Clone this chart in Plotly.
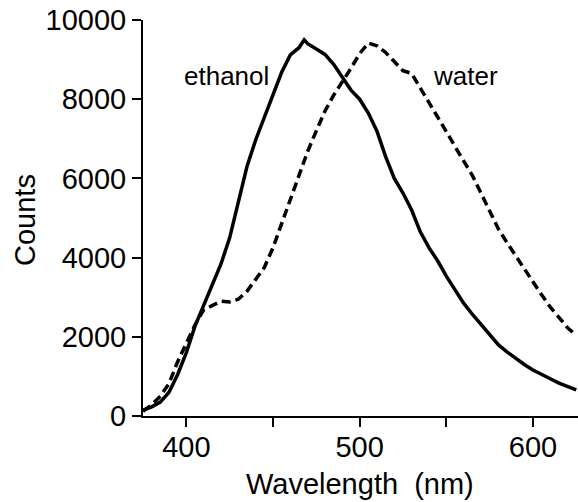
import plotly.graph_objects as go

# Emission spectra (counts vs wavelength) in two solvents
wavelength_ethanol = [375, 380, 385, 390, 395, 400, 405, 410, 415, 420, 425, 430, 435, 440,
                      445, 450, 455, 460, 465, 468, 470, 475, 480, 485, 490, 495, 500, 505,
                      510, 515, 520, 525, 530, 535, 540, 545, 550, 555, 560, 565, 570, 575,
                      580, 585, 590, 595, 600, 605, 610, 615, 620, 625]
counts_ethanol = [150, 230, 350, 600, 1050, 1600, 2270, 2800, 3320, 3840, 4500, 5400, 6300, 6970,
                  7540, 8130, 8680, 9120, 9300, 9500, 9400, 9270, 9130, 8880, 8560, 8230, 8000, 7650,
                  7190, 6550, 6000, 5630, 5200, 4650, 4250, 3920, 3530, 3180, 2850, 2570, 2320, 2050,
                  1800, 1620, 1450, 1300, 1160, 1040, 940, 830, 740, 660]

wavelength_water = [375, 380, 385, 390, 395, 400, 405, 410, 415, 420, 425, 430, 435, 440,
                    445, 450, 455, 460, 465, 470, 475, 480, 485, 490, 495, 500, 505, 510,
                    515, 520, 525, 530, 535, 540, 545, 550, 555, 560, 565, 570, 575, 580,
                    585, 590, 595, 600, 605, 610, 615, 620, 625]
counts_water = [120, 280, 500, 820, 1370, 1850, 2300, 2680, 2800, 2900, 2880, 2950, 3150, 3450,
                3750, 4250, 4870, 5450, 6050, 6680, 7200, 7700, 8100, 8430, 8780, 9150, 9420, 9350,
                9180, 8950, 8720, 8650, 8270, 7920, 7550, 7180, 6830, 6440, 6080, 5640, 5200, 4730,
                4380, 4040, 3700, 3380, 3060, 2750, 2480, 2230, 2030]

x_ticks = [400, 450, 500, 550, 600]
x_tick_text = ["400", "", "500", "", "600"]
y_ticks = [0, 2000, 4000, 6000, 8000, 10000]
y_tick_text = ["0", "2000", "4000", "6000", "8000", "10000"]

FONT = "Liberation Sans, Arial, Helvetica, sans-serif"

W, H = 578, 502
ML, MR, MT, MB = 143, 0, 20, 86
pw, ph = W - ML - MR, H - MT - MB


def px_to_paper(px, py):
    return (px - ML) / pw, (H - MB - py) / ph


fig = go.Figure()
fig.add_trace(go.Scatter(x=wavelength_ethanol, y=counts_ethanol, mode="lines",
                         line=dict(color="black", width=3.5), name="ethanol"))
fig.add_trace(go.Scatter(x=wavelength_water, y=counts_water, mode="lines",
                         line=dict(color="black", width=3.5, dash="9px,5px"), name="water"))

fig.add_annotation(x=422.9, y=8586, xref="x", yref="y", text="ethanol", showarrow=False,
                   xanchor="center", yanchor="middle",
                   font=dict(family=FONT, size=26, color="black"))
fig.add_annotation(x=560.8, y=8586, xref="x", yref="y", text="water", showarrow=False,
                   xanchor="center", yanchor="middle",
                   font=dict(family=FONT, size=26, color="black"))

# Axis titles placed by pixel position
tx, ty = px_to_paper(360, 484)
fig.add_annotation(x=tx, y=ty, xref="paper", yref="paper", text="Wavelength  (nm)",
                   showarrow=False, xanchor="center", yanchor="middle",
                   font=dict(family=FONT, size=29, color="black"))
tx, ty = px_to_paper(25, 220)
fig.add_annotation(x=tx, y=ty, xref="paper", yref="paper", text="Counts", textangle=-90,
                   showarrow=False, xanchor="center", yanchor="middle",
                   font=dict(family=FONT, size=29, color="black"))

fig.update_layout(
    width=W, height=H,
    margin=dict(l=ML, r=MR, t=MT, b=MB, pad=0),
    plot_bgcolor="white", paper_bgcolor="white",
    showlegend=False,
    font=dict(family=FONT, size=29, color="black"),
    xaxis=dict(range=[375, 626], showgrid=False, zeroline=False, showline=True,
               linecolor="black", linewidth=2, ticks="outside", ticklen=9, tickwidth=1.5,
               tickcolor="black", tickvals=x_ticks, ticktext=x_tick_text,
               ticklabelstandoff=-5,
               tickfont=dict(family=FONT, size=29, color="black")),
    yaxis=dict(range=[0, 10000], showgrid=False, zeroline=False, showline=True,
               linecolor="black", linewidth=2, ticks="outside", ticklen=9, tickwidth=1.5,
               tickcolor="black", tickvals=y_ticks, ticktext=y_tick_text,
               tickfont=dict(family=FONT, size=29, color="black")),
)

fig.write_html("out.html")
